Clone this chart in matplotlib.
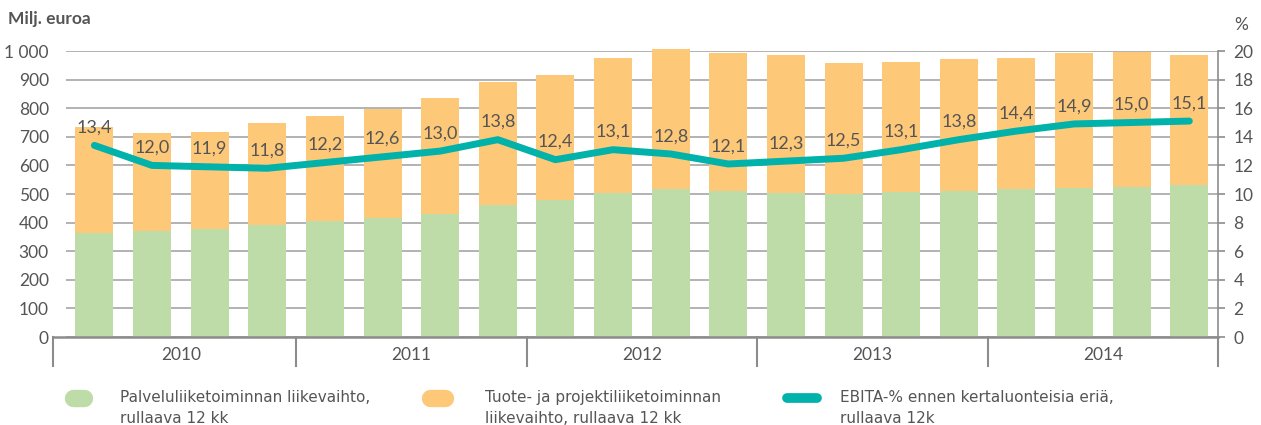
import matplotlib.pyplot as plt
from matplotlib.lines import Line2D
import numpy as np

plt.rcParams['font.family'] = ['Lato', 'DejaVu Sans']

# Quarterly data 2010 Q1 - 2014 Q4 (rolling 12 months, MEUR)
years = ['2010', '2011', '2012', '2013', '2014']
service = [364, 369, 378, 391, 407, 417, 431, 463, 480, 502,
           516, 512, 502, 500, 506, 512, 516, 521, 523, 530]
total = [735, 714, 716, 749, 773, 796, 835, 891, 917, 975,
         1006, 994, 986, 959, 961, 973, 975, 992, 996, 987]
ebita = [13.4, 12.0, 11.9, 11.8, 12.2, 12.6, 13.0, 13.8, 12.4, 13.1,
         12.8, 12.1, 12.3, 12.5, 13.1, 13.8, 14.4, 14.9, 15.0, 15.1]
product = [t - s for t, s in zip(total, service)]

legend_labels = ['Palveluliiketoiminnan liikevaihto,\nrullaava 12 kk',
                 'Tuote- ja projektiliiketoiminnan\nliikevaihto, rullaava 12 kk',
                 'EBITA-% ennen kertaluonteisia eriä,\nrullaava 12k']

green = '#bddca8'
orange = '#fdc878'
teal = '#00b2a9'
grid_c = '#a6a6a6'
txt = '#555555'

fig = plt.figure(figsize=(12.61, 4.25), dpi=100)
ax = fig.add_axes([0.052, 0.207, 0.914, 0.673])
x = np.arange(len(total))

ax.bar(x, service, width=0.66, color=green, zorder=2, clip_on=False)
ax.bar(x, product, bottom=service, width=0.66, color=orange, zorder=2, clip_on=False)

ax.set_xlim(-0.5, len(x) - 0.5)
ax.set_ylim(0, 1000)
ax.set_yticks(np.arange(0, 1001, 100))
ax.set_yticklabels([f'{v:,}'.replace(',', ' ') for v in range(0, 1001, 100)])
ax.tick_params(axis='y', length=0, pad=12, labelsize=12.5, labelcolor=txt)
ax.set_xticks([])
ax.grid(axis='y', color=grid_c, linewidth=1.2, zorder=0)
ax.set_axisbelow(True)
for s in ['left', 'right', 'top', 'bottom']:
    ax.spines[s].set_visible(False)

# bottom axis with year separators
trans = ax.get_xaxis_transform()
ax.plot([-0.72, len(x) - 0.5], [0, 0], transform=trans, color='#8c8c8c',
        linewidth=1.8, clip_on=False, zorder=3)
seps = [-0.72] + [i * 4 - 0.5 for i in range(1, len(years))] + [len(x) - 0.5]
for sx in seps:
    ax.plot([sx, sx], [0, -0.1], transform=trans, color='#8c8c8c',
            linewidth=1.5, clip_on=False)
for i, yr in enumerate(years):
    ax.text(i * 4 + 1.5, -0.062, yr, transform=trans, ha='center', va='center',
            fontsize=12.5, color=txt)

# right axis: EBITA %
ax2 = ax.twinx()
ax2.set_ylim(0, 20)
ax2.set_yticks(np.arange(0, 21, 2))
ax2.tick_params(axis='y', length=5, width=1.2, color='#8c8c8c', pad=6,
                labelsize=12.5, labelcolor=txt)
for s in ['left', 'top', 'bottom']:
    ax2.spines[s].set_visible(False)
ax2.spines['right'].set_color('#8c8c8c')
ax2.spines['right'].set_linewidth(1.2)
ax2.plot(x, ebita, color=teal, linewidth=5, solid_capstyle='round',
         solid_joinstyle='round', zorder=4)
for xi, v in zip(x, ebita):
    ax2.annotate(f'{v:.1f}'.replace('.', ','), (xi, v), xytext=(0, 7),
                 textcoords='offset points', ha='center', va='bottom',
                 fontsize=13, color=txt)

fig.text(0.006, 0.955, 'Milj. euroa', fontsize=12.5, fontweight='bold',
         color=txt, ha='left', va='center')
fig.text(0.984, 0.94, '%', fontsize=12.5, color=txt, ha='center', va='center')

# legend
leg_font = ['Liberation Sans Narrow', 'DejaVu Sans']
items = [(0.058, 0.067, green, 12.5, 0.095, legend_labels[0]),
         (0.341, 0.353, orange, 12.5, 0.385, legend_labels[1]),
         (0.624, 0.648, teal, 7, 0.666, legend_labels[2])]
for x0, x1, c, lw, tx, lab in items:
    fig.add_artist(Line2D([x0, x1], [0.063, 0.063], color=c, linewidth=lw,
                          solid_capstyle='round'))
    fig.text(tx, 0.04, lab, fontsize=11, color=txt, ha='left', va='center',
             family=leg_font, linespacing=1.5)

fig.savefig('out.png', dpi=100)
